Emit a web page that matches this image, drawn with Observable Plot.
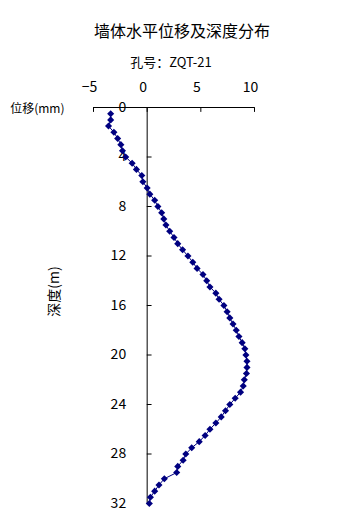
<!DOCTYPE html>
<html>
<head>
<meta charset="utf-8">
<script src="https://cdn.jsdelivr.net/npm/d3@7"></script>
<script src="https://cdn.jsdelivr.net/npm/@observablehq/plot@0.6"></script>
<style>
  html, body { margin: 0; padding: 0; background: #fff; }
  #wrap { position: relative; width: 345px; height: 518px; overflow: hidden; font-family: "Noto Sans CJK SC", sans-serif; }
  #chart { position: absolute; left: 0; top: 0; }
  .title { position: absolute; left: 182px; top: 21px; transform: translateX(-50%); font-size: 16px; line-height: 18px; white-space: nowrap; color: #000; }
  .subtitle { position: absolute; left: 171px; top: 54px; transform: translateX(-50%); font-size: 13px; line-height: 16px; white-space: nowrap; color: #000; }
</style>
</head>
<body>
<div id="wrap">
  <div id="chart"></div>
  <div class="title">墙体水平位移及深度分布</div>
  <div class="subtitle">孔号：ZQT-21</div>
</div>
<script>
const titleText = "墙体水平位移及深度分布";
const subtitleText = "孔号：ZQT-21";
const xLabel = "位移(mm)";
const yLabel = "深度(m)";
const xTicks = [-5, 0, 5, 10];
const yTicks = [0, 4, 8, 12, 16, 20, 24, 28, 32];

const depths = [
  0.5, 1.0, 1.5, 2.0, 2.5, 3.0, 3.5, 4.0, 4.5, 5.0,
  5.5, 6.0, 6.5, 7.0, 7.5, 8.0, 8.5, 9.0, 9.5, 10.0,
  10.5, 11.0, 11.5, 12.0, 12.5, 13.0, 13.5, 14.0, 14.5, 15.0,
  15.5, 16.0, 16.5, 17.0, 17.5, 18.0, 18.5, 19.0, 19.5, 20.0,
  20.5, 21.0, 21.5, 22.0, 22.5, 23.0, 23.5, 24.0, 24.5, 25.0,
  25.5, 26.0, 26.5, 27.0, 27.5, 28.0, 28.5, 29.0, 29.5, 30.0,
  30.5, 31.0, 31.5, 32.0
];
const displacements = [
  -3.4, -3.4, -3.6, -3.1, -2.75, -2.45, -2.3, -2.0, -1.4, -1.0,
  -0.5, -0.4, 0.0, 0.25, 0.7, 1.0, 1.35, 1.55, 1.75, 2.1,
  2.5, 2.85, 3.3, 3.8, 4.25, 4.65, 5.2, 5.55, 5.85, 6.4,
  6.7, 7.15, 7.45, 7.7, 8.0, 8.3, 8.55, 8.85, 9.1, 9.2,
  9.3, 9.3, 9.25, 9.05, 8.95, 8.7, 8.2, 7.7, 7.3, 6.9,
  6.4, 5.85, 5.4, 4.85, 4.15, 3.6, 3.35, 2.85, 2.75, 1.6,
  1.1, 0.7, 0.3, 0.2
];

const data = depths.map((d, i) => ({depth: d, disp: displacements[i]}));
const navy = "#000080";
const tickShape = {draw(context, l) { context.moveTo(0, 0); context.lineTo(0, -l); }};
const numFont = "Noto Sans CJK SC, sans-serif";

const chart = Plot.plot({
  width: 345,
  height: 518,
  marginLeft: 93,
  marginRight: 91,
  marginTop: 107,
  marginBottom: 15,
  style: {fontFamily: "Noto Sans CJK SC, sans-serif", background: "white", color: "black", overflow: "visible"},
  x: {domain: [-5, 10], axis: null},
  y: {domain: [0, 32], reverse: true, axis: null},
  marks: [
    Plot.ruleY([0], {stroke: "black", strokeWidth: 1}),
    Plot.ruleX([0], {stroke: "black", strokeWidth: 1}),
    Plot.vector(xTicks, {x: d => d, y: 0, length: 4, rotate: 180, anchor: "start", shape: tickShape, stroke: "black", strokeWidth: 1}),
    Plot.vector(yTicks, {x: 0, y: d => d, length: 4, rotate: 90, anchor: "start", shape: tickShape, stroke: "black", strokeWidth: 1}),
    Plot.text(xTicks, {x: d => d, y: 0, dy: -20, dx: -4, text: d => d < 0 ? "−" + Math.abs(d) : String(d), fontSize: 14, fontFamily: numFont, fill: "black"}),
    Plot.text(yTicks, {x: 0, y: d => d, dx: -21, textAnchor: "end", text: d => String(d), fontSize: 14, fontFamily: numFont, fill: "black"}),
    Plot.line(data, {x: "disp", y: "depth", stroke: navy, strokeWidth: 1}),
    Plot.dot(data, {x: "disp", y: "depth", symbol: "diamond2", r: 3.2, fill: navy, stroke: null}),
    Plot.text([xLabel], {frameAnchor: "top-left", dx: -29, dy: 2, textAnchor: "end", lineAnchor: "middle", fontSize: 12, fill: "black"}),
    Plot.text([yLabel], {frameAnchor: "left", rotate: -90, dx: -39, dy: -14, textAnchor: "middle", lineAnchor: "middle", fontSize: 14, fill: "black"})
  ]
});
document.getElementById("chart").appendChild(chart);
</script>
</body>
</html>
